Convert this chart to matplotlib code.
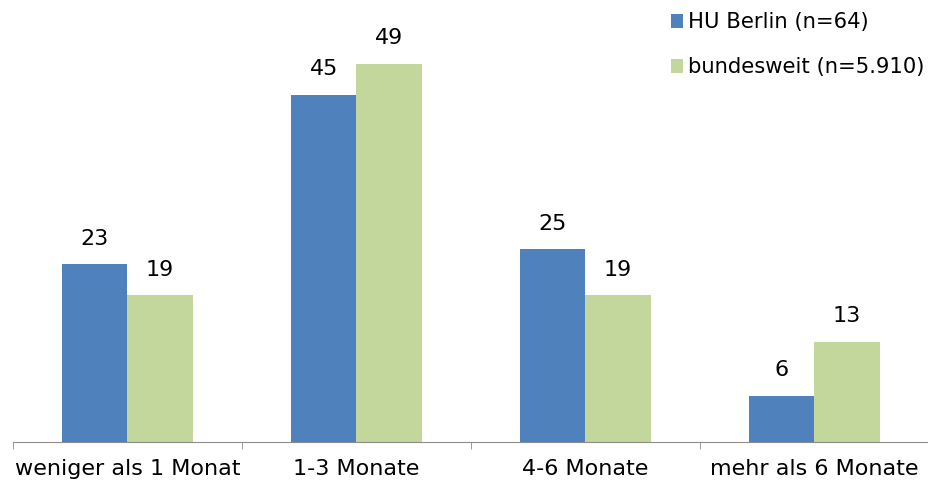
import numpy as np
import matplotlib.pyplot as plt

categories = ["weniger als 1 Monat", "1-3 Monate", "4-6 Monate", "mehr als 6 Monate"]
hu_berlin = [23, 45, 25, 6]
bundesweit = [19, 49, 19, 13]
series_names = ["HU Berlin (n=64)", "bundesweit (n=5.910)"]

BLUE = "#4F81BD"
GREEN = "#C3D69B"

fig = plt.figure(figsize=(9.29, 4.84), dpi=100)
ax = fig.add_axes([13 / 929, 42 / 484, 1 - 13 / 929, 442 / 484])

x = np.arange(len(categories))
w = 0.285
b1 = ax.bar(x - w / 2, hu_berlin, w, color=BLUE, label=series_names[0])
b2 = ax.bar(x + w / 2, bundesweit, w, color=GREEN, label=series_names[1])

# value labels above each bar
for bars, vals in ((b1, hu_berlin), (b2, bundesweit)):
    for rect, v in zip(bars, vals):
        ax.annotate(str(v), (rect.get_x() + rect.get_width() / 2, rect.get_height()),
                    xytext=(0, 11), textcoords="offset points",
                    ha="center", va="bottom", fontsize=16, color="#000000")

ax.set_xlim(-0.5, 3.5 - 6 / 230)
ax.set_ylim(0, 442 / 7.72)

for s in ("top", "right", "left"):
    ax.spines[s].set_visible(False)
ax.spines["bottom"].set_color("#8c8c8c")
ax.yaxis.set_visible(False)

ax.set_xticks(x)
ax.set_xticklabels(categories, fontsize=16)
ax.tick_params(axis="x", which="major", length=0, pad=12.5)
ax.set_xticks(np.arange(-0.5, 4, 1), minor=True)
ax.tick_params(axis="x", which="minor", length=5, color="#8c8c8c")

ax.legend(loc="upper left", bbox_to_anchor=((667 - 13) / 916, 1 - 8 / 442), frameon=False,
          fontsize=15.2, handlelength=0.56, handleheight=0.62, handletextpad=0.25,
          labelspacing=1.18, borderaxespad=0.0, borderpad=0.2)

fig.savefig("out.png", dpi=100)
